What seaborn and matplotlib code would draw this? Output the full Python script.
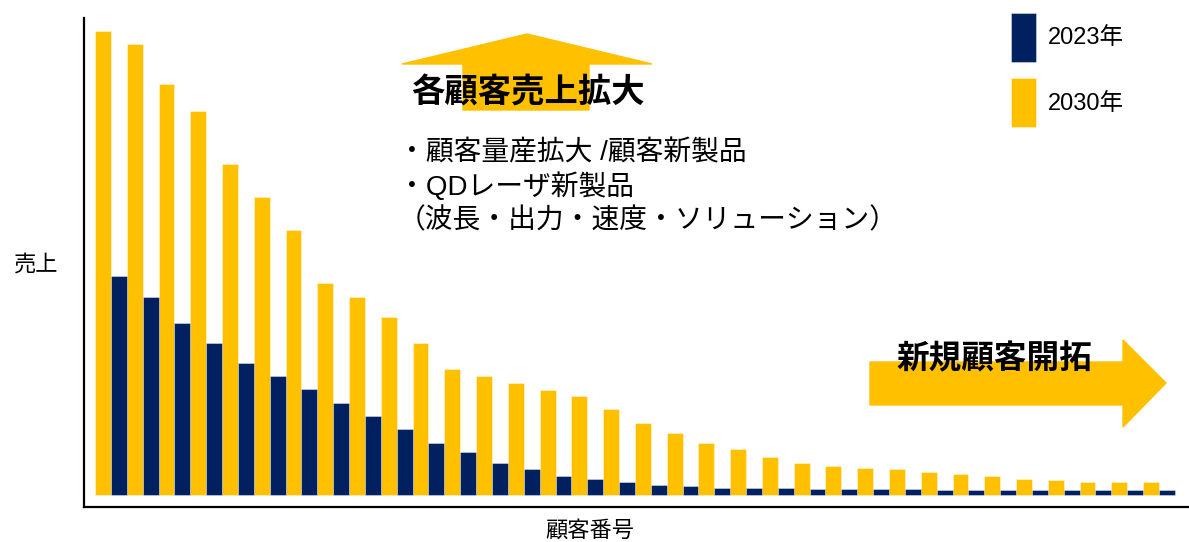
import matplotlib
matplotlib.use("Agg")
import matplotlib.pyplot as plt
import matplotlib.patches as mpatches
import pandas as pd
import seaborn as sns

# 顧客別売上（相対値、画像から読み取り）
customers = list(range(1, 35))
sales_2030 = [464, 451, 411, 384, 331, 298, 265, 212, 198, 178, 152, 126, 119, 112,
              105, 99, 86, 72, 62, 52, 46, 38, 32, 29, 27, 26, 23, 21, 19, 16, 15,
              13, 13, 13]
sales_2023 = [219, 198, 172, 152, 132, 119, 106, 92, 79, 66, 52, 43, 32, 26, 19, 16,
              13, 10, 9, 7, 7, 7, 6, 6, 6, 6, 5, 5, 5, 5, 5, 5, 5, 5]
years = ["2023年", "2030年"]
colors = {"2023年": "#002060", "2030年": "#FFC000"}


def main():
    df = pd.DataFrame({
        "customer": customers * 2,
        "sales": sales_2023 + sales_2030,
        "year": [years[0]] * len(customers) + [years[1]] * len(customers),
    })

    sns.set_theme(style="white")
    plt.rcParams["font.family"] = ["Liberation Sans", "Noto Sans CJK JP", "DejaVu Sans"]
    plt.rcParams["text.color"] = "black"
    plt.rcParams["axes.labelcolor"] = "black"

    fig = plt.figure(figsize=(11.89, 5.42), dpi=100)
    ax = fig.add_axes([84 / 1189, 35 / 542, 1105 / 1189, 489 / 542])

    sns.barplot(data=df, x="customer", y="sales", hue="year",
                hue_order=["2030年", "2023年"], palette=colors, saturation=1,
                width=1.0, gap=0, ax=ax, errorbar=None,
                edgecolor=(1, 1, 1, 0.45), linewidth=0.6)

    ax.set_xlim(-0.846, 33.945)
    ax.set_ylim(-12.5, 476.5)
    ax.set_xticks([])
    ax.set_yticks([])
    for side in ["top", "right"]:
        ax.spines[side].set_visible(False)
    for side in ["left", "bottom"]:
        ax.spines[side].set_color("black")
        ax.spines[side].set_linewidth(1.6)

    ax.set_xlabel("顧客番号", fontsize=16)
    ax.xaxis.set_label_coords(0.458, -0.028)
    ax.set_ylabel("売上", fontsize=16, rotation=0, va="center", ha="center")
    ax.yaxis.set_label_coords(-0.043, 0.495)

    handles, labels = ax.get_legend_handles_labels()
    ax.legend(handles[::-1], labels[::-1], loc="upper left",
              bbox_to_anchor=(1011 / 1189, 1 - 13 / 542), bbox_transform=fig.transFigure,
              frameon=False, fontsize=17, handlelength=1.07, handleheight=2.8,
              labelspacing=0.7, handletextpad=0.5, borderpad=0, borderaxespad=0)

    W, H = 1189, 542

    def px(x, y):
        return (x / W, 1 - y / H)

    # 上向き矢印
    up = [px(463, 110), px(463, 64), px(402, 64), px(527, 34), px(652, 64),
          px(589, 64), px(589, 110)]
    fig.patches.append(mpatches.Polygon(up, closed=True, color="#FFC000",
                                        transform=fig.transFigure, zorder=1))
    # 右向き矢印
    right = [px(870, 362), px(1123, 362), px(1123, 340), px(1166, 383), px(1123, 427),
             px(1123, 405), px(870, 405)]
    fig.patches.append(mpatches.Polygon(right, closed=True, color="#FFC000",
                                        transform=fig.transFigure, zorder=1))

    fig.text(411 / W, 1 - 93 / H, "各顧客売上拡大", fontsize=24, fontweight="bold",
             va="center", ha="left")
    fig.text(896 / W, 1 - 360 / H, "新規顧客開拓", fontsize=23.5, fontweight="bold",
             va="center", ha="left")

    lines = ["・顧客量産拡大 /顧客新製品", "・QDレーザ新製品", "（波長・出力・速度・ソリューション）"]
    for i, line in enumerate(lines):
        fig.text(398 / W, 1 - (153 + 34 * i) / H, line, fontsize=20,
                 va="center", ha="left")

    fig.savefig("out.png", dpi=100)
    plt.close(fig)


if __name__ == "__main__":
    main()
